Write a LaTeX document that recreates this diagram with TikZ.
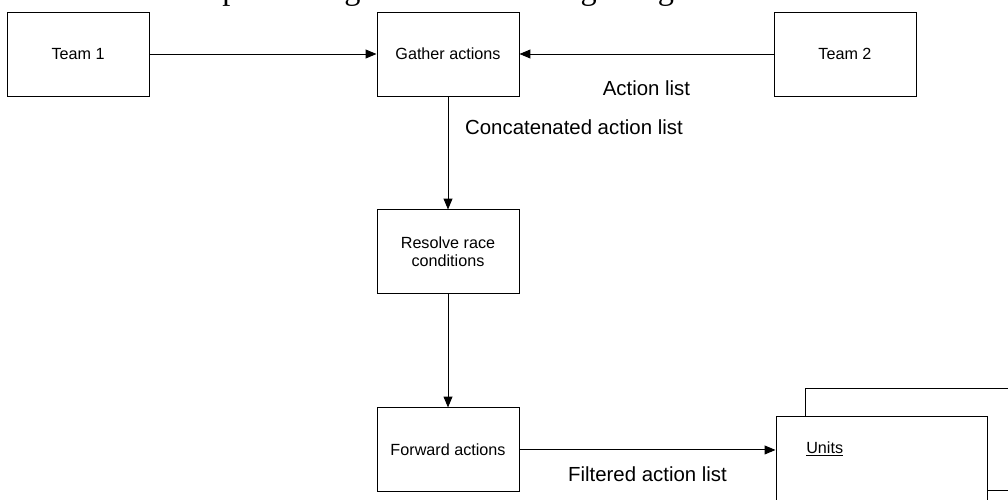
\documentclass[tikz,border=0pt]{standalone}
\usepackage{fontspec}
\setmainfont{Liberation Sans}
\newfontfamily\bodyserif{Liberation Serif}
\usetikzlibrary{arrows.meta, positioning}

\begin{document}
\begin{tikzpicture}[
    node distance=2.825cm and 5.675cm,
    box/.style={rectangle, draw, line width=0.7pt, minimum width=3.55cm, minimum height=2.1cm, align=center, font=\fontsize{11.5}{13}\selectfont},
    arrow/.style={-{Triangle[length=0.27cm, width=0.22cm]}, line width=0.7pt},
    lbl/.style={font=\fontsize{14.5}{17}\selectfont}
]
\useasboundingbox (0,0) rectangle (25.2,-12.5);
\clip (0,0) rectangle (25.2,-12.5);

% running text of the page, only its lower edge shows
\node[anchor=base west, inner sep=0pt, font=\bodyserif\fontsize{23}{27}\selectfont] (para) at (0.05,0.02)
    {the actual action processing is done according to figure};

\node[box] (gather) at (11.2,-1.35) {Gather actions};
\node[box, left=of gather] (team1) {Team 1};
\node[box, right=6.35cm of gather] (team2) {Team 2};
\node[box, below=of gather] (resolve) {Resolve race\\conditions};
\node[box, below=of resolve] (fwd) {Forward actions};

% stacked boxes for the units
\node[box, minimum width=5.275cm, minimum height=2.55cm] (unitsback) at (22.7625,-10.975) {};
\node[box, fill=white, minimum width=5.275cm, minimum height=2.55cm] (units) at (22.0375,-11.675) {};
\node[anchor=west, inner sep=0pt, font=\fontsize{11.5}{13}\selectfont] (unitsname) at (20.15,-11.225) {\underline{Units}};

\draw[arrow] (team1.east) -- (gather.west);
\draw[arrow] (team2.west) -- (gather.west -| gather.east) node[midway, below=0.55cm, lbl] {Action list};
\draw[arrow] (gather.south) -- (resolve.north) node[pos=0.27, right=0.3cm, lbl] {Concatenated action list};
\draw[arrow] (resolve.south) -- (fwd.north);
\draw[arrow] (fwd.east) -- (fwd.east -| units.west) node[midway, below=0.3cm, lbl] {Filtered action list};

\end{tikzpicture}
\end{document}
